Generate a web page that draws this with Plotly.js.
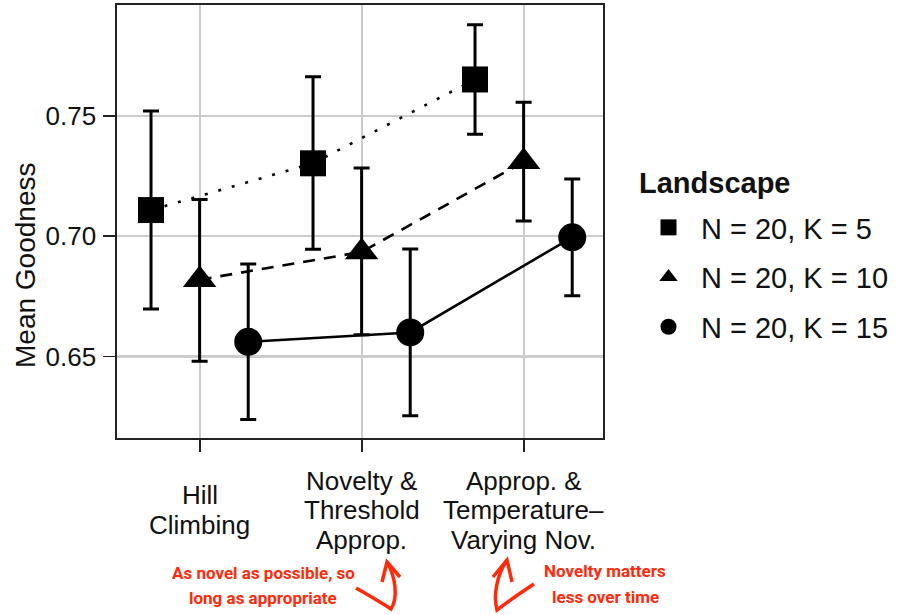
<!DOCTYPE html>
<html>
<head>
<meta charset="utf-8">
<script src="https://cdn.plot.ly/plotly-3.0.1.min.js"></script>
<style>html,body{margin:0;padding:0;background:#fff;}#chart{width:899px;height:615px;}</style>
</head>
<body>
<div id="chart"></div>
<script>
// ---- data ----
const categories = ['Hill<br>Climbing', 'Novelty &<br>Threshold<br>Approp.', 'Approp. &<br>Temperature–<br>Varying Nov.'];
const seriesNames = ['N = 20, K = 5', 'N = 20, K = 10', 'N = 20, K = 15'];
const legendTitle = 'Landscape';
const meanK5  = [0.7108, 0.7302, 0.7650];
const lowerK5 = [0.6697, 0.6945, 0.7423];
const upperK5 = [0.7519, 0.7661, 0.7877];
const meanK10  = [0.6819, 0.6934, 0.7308];
const lowerK10 = [0.6481, 0.6590, 0.7063];
const upperK10 = [0.7152, 0.7283, 0.7555];
const meanK15  = [0.6561, 0.6600, 0.6995];
const lowerK15 = [0.6239, 0.6254, 0.6752];
const upperK15 = [0.6884, 0.6946, 0.7237];
const yTickVals = [0.65, 0.70, 0.75];
const yTickText = ['0.65', '0.70', '0.75'];
const note1 = 'As novel as possible, so<br>long as appropriate';
const note2 = 'Novelty matters<br>less over time';

// ---- layout geometry (pixels) ----
const W = 899, H = 615;
const PL = 117, PR = 603, PT = 5, PB = 438;
const px = v => (v - PL) / (PR - PL);
const py = v => (PB - v) / (PB - PT);

const series = [
  {name: seriesNames[0], mean: meanK5, lo: lowerK5, hi: upperK5, sym: 'square', size: 26, dash: '3px,11px', off: -0.3},
  {name: seriesNames[1], mean: meanK10, lo: lowerK10, hi: upperK10, sym: 'triangle-up', size: 29, dash: '12px,9px', off: 0},
  {name: seriesNames[2], mean: meanK15, lo: lowerK15, hi: upperK15, sym: 'circle', size: 28, dash: 'solid', off: 0.3}
];

const traces = [];
series.forEach(s => {
  traces.push({
    type: 'scatter', mode: 'lines+markers',
    x: s.mean.map((_, i) => i + s.off), y: s.mean,
    line: {color: '#000', width: 2.6, dash: s.dash},
    marker: {symbol: s.sym, size: s.size, color: '#000'},
    error_y: {type: 'data', symmetric: false,
      array: s.hi.map((h, i) => h - s.mean[i]),
      arrayminus: s.lo.map((l, i) => s.mean[i] - l),
      color: '#000', thickness: 3, width: 8},
    showlegend: false, hoverinfo: 'skip'
  });
});
series.forEach((s, k) => {
  traces.push({
    type: 'scatter', mode: 'markers', x: [null], y: [null],
    name: s.name, legendgroup: 'g' + k,
    marker: {symbol: s.sym, size: 16, color: '#000'}, showlegend: true
  });
});

const baseFont = 'Liberation Sans, Arial, sans-serif';
const annotations = [];
function addLines(text, xref, x, yCenterPx, spacing, font) {
  const lines = text.split('<br>');
  lines.forEach((t, j) => {
    const yc = yCenterPx + (j - (lines.length - 1) / 2) * spacing;
    annotations.push({xref: xref, yref: 'paper', x: x, y: py(yc), yanchor: 'middle', xanchor: 'center',
      text: t, showarrow: false, font: font});
  });
}
// x category labels
categories.forEach((c, i) => addLines(c, 'x', i, 510, 29.5, {size: 26, color: '#111', family: baseFont}));
// y-axis title
annotations.push({xref: 'paper', yref: 'paper', x: px(25), y: py(266), text: 'Mean Goodness', textangle: -90,
  showarrow: false, xanchor: 'center', yanchor: 'middle', font: {size: 28, color: '#111', family: baseFont}});
// legend title
annotations.push({xref: 'paper', yref: 'paper', x: px(637), y: py(183), text: '<b>' + legendTitle + '</b>',
  showarrow: false, xanchor: 'left', yanchor: 'middle', font: {size: 29, color: '#111', family: baseFont}});
// red notes
const redFont = {size: 17, color: '#ff2a0a', family: 'Roboto, Liberation Sans, sans-serif', weight: 700};
addLines(note1, 'paper', px(263), 585, 25, redFont);
addLines(note2, 'paper', px(605), 584, 26, redFont);

function pathFrom(cmds) {
  return cmds.map(c => c[0] + ' ' + c.slice(1).reduce((a, v, i) => {
    if (i % 2 === 0) a.push(px(v).toFixed(5)); else a[a.length - 1] += ',' + py(v).toFixed(5);
    return a;
  }, []).join(' ')).join(' ');
}
const arrowStyle = {color: '#ff2a0a', width: 3.5};
const shapes = [
  {type: 'path', xref: 'paper', yref: 'paper', line: arrowStyle,
   path: pathFrom([['M', 356, 588], ['C', 370, 596, 382, 603, 391, 609], ['C', 398, 598, 396, 578, 387, 562]])},
  {type: 'path', xref: 'paper', yref: 'paper', line: arrowStyle,
   path: pathFrom([['M', 382, 582], ['L', 387, 562], ['L', 400, 577]])},
  {type: 'path', xref: 'paper', yref: 'paper', line: arrowStyle,
   path: pathFrom([['M', 534, 584], ['C', 522, 592, 510, 600, 497, 610], ['C', 493, 595, 497, 575, 507, 560]])},
  {type: 'path', xref: 'paper', yref: 'paper', line: arrowStyle,
   path: pathFrom([['M', 493, 577], ['L', 507, 560], ['L', 512, 582]])}
];

const layout = {
  width: W, height: H,
  margin: {l: PL, r: W - PR, t: PT, b: H - PB, pad: 0},
  paper_bgcolor: '#fff', plot_bgcolor: '#fff',
  font: {family: baseFont, color: '#111'},
  xaxis: {range: [-0.51, 2.49], tickvals: [0, 1, 2], showticklabels: false,
    ticks: 'outside', ticklen: 12, tickwidth: 1.8, tickcolor: '#222',
    showgrid: true, gridcolor: '#cccccc', gridwidth: 2.2, zeroline: false,
    showline: true, mirror: true, linecolor: '#222', linewidth: 1.6, fixedrange: true},
  yaxis: {range: [0.6162, 0.7959], tickvals: yTickVals, ticktext: yTickText,
    ticks: 'outside', ticklen: 12, tickwidth: 1.8, tickcolor: '#222',
    tickfont: {size: 26, color: '#111'}, ticklabelstandoff: 2,
    showgrid: true, gridcolor: '#cccccc', gridwidth: 2.2, zeroline: false,
    showline: true, mirror: true, linecolor: '#222', linewidth: 1.6, fixedrange: true},
  legend: {x: px(636), xanchor: 'left', y: py(202), yanchor: 'top',
    font: {size: 29, color: '#111'}, tracegroupgap: 9, traceorder: 'grouped', itemwidth: 55,
    bgcolor: 'rgba(0,0,0,0)', borderwidth: 0},
  annotations: annotations,
  shapes: shapes,
  showlegend: true
};

Plotly.newPlot('chart', traces, layout, {displayModeBar: false, staticPlot: true});
</script>
</body>
</html>
